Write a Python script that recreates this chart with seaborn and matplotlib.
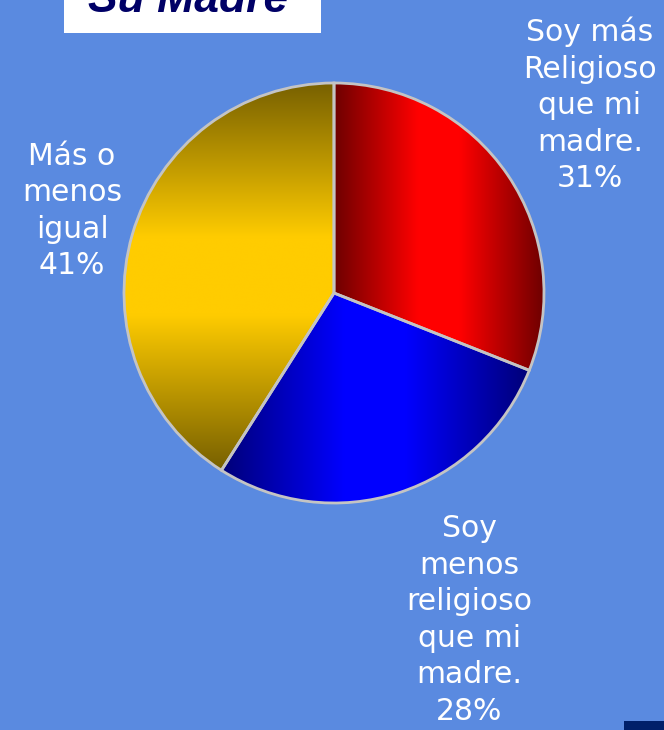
import numpy as np
import matplotlib
matplotlib.use("Agg")
import matplotlib.pyplot as plt
import seaborn as sns
from matplotlib.colors import LinearSegmentedColormap
from matplotlib.patches import Rectangle

# data
labels = ["Soy más\nReligioso\nque mi\nmadre.\n31%",
          "Soy\nmenos\nreligioso\nque mi\nmadre.\n28%",
          "Más o\nmenos\nigual\n41%"]
values = [31, 28, 41]
dark_colors = ["#6e0000", "#000078", "#776000"]
bright_colors = ["#ff0000", "#0000ff", "#ffcc00"]
directions = ["h", "h", "v"]

bg = "#5a8ae0"
sns.set_theme(style="white")
sns.set_style({"axes.facecolor": bg, "figure.facecolor": bg})
plt.rcParams["font.family"] = ["DejaVu Sans"]

fig = plt.figure(figsize=(6.64, 7.30), dpi=100)
ax = fig.add_axes([0, 0, 1, 1])

wedges, _ = ax.pie(values, center=(334, 437), radius=210, startangle=90,
                   counterclock=False, frame=True,
                   wedgeprops=dict(facecolor="none", edgecolor="#c4c4c4",
                                   linewidth=2, zorder=3))

# gradient fill inside each slice
for w, dk, br, d in zip(wedges, dark_colors, bright_colors, directions):
    cmap = LinearSegmentedColormap.from_list(
        "g", [(0, dk), (0.4, br), (0.6, br), (1, dk)])
    ext = w.get_path().get_extents()
    grad = np.linspace(0, 1, 256)
    img = grad[None, :] if d == "h" else grad[:, None]
    im = ax.imshow(img, cmap=cmap, extent=[ext.x0, ext.x1, ext.y0, ext.y1],
                   aspect="auto", zorder=2, interpolation="bicubic")
    im.set_clip_path(w)

ax.set_xlim(0, 664)
ax.set_ylim(0, 730)
ax.set_aspect("equal")
ax.axis("off")

# slice labels
label_pos = [(590, 625), (469, 110), (72, 519)]
for txt, (x, y) in zip(labels, label_pos):
    ax.text(x, y, txt, color="white", fontsize=21.5, ha="center", va="center",
            linespacing=1.33, zorder=4)

# title box, cut off at the top (as in the original)
fig.patches.append(Rectangle((64 / 664, 1 - 33 / 730), 257 / 664, 33 / 730,
                             transform=fig.transFigure, facecolor="white",
                             edgecolor="none", zorder=5))
fig.text(88 / 664, 1 - 12 / 730, "Su Madre", color="#000066", fontsize=32,
         fontweight="bold", fontstyle="italic", family="Liberation Sans",
         va="baseline", ha="left", zorder=6)

# small navy corner block
fig.patches.append(Rectangle((624 / 664, 0), 40 / 664, 9 / 730,
                             transform=fig.transFigure, facecolor="#00206a",
                             edgecolor="none", zorder=5))

fig.savefig("out.png", dpi=100, facecolor=bg)
